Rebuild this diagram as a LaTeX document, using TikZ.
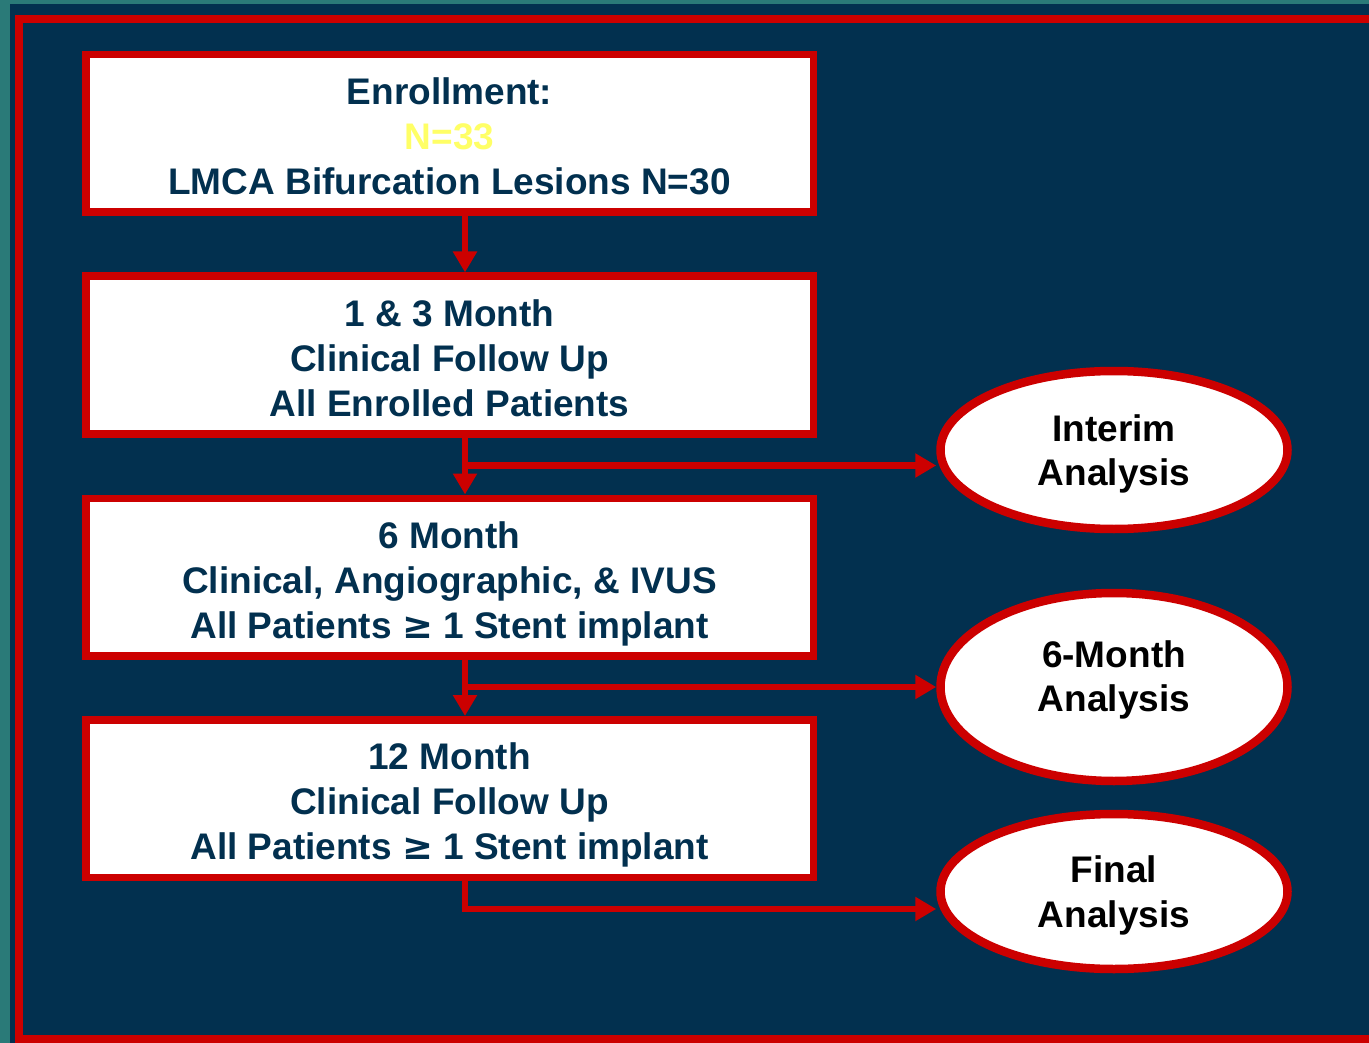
\documentclass[tikz,border=0pt]{standalone}
\usepackage{fontspec}
\setmainfont{Liberation Sans}
\newfontfamily\symbolfont{DejaVu Sans}
\usepackage{xcolor}
\usepackage{tikz}
\usetikzlibrary{arrows.meta, positioning, shapes.geometric}

\definecolor{deepnavy}{HTML}{02304F}
\definecolor{slateteal}{HTML}{2A7A78}
\definecolor{flowred}{HTML}{CC0000}
\definecolor{softyellow}{HTML}{FFFF66}
\newcommand{\atleast}{{\symbolfont ≥}}

\begin{document}
\begin{tikzpicture}[x=1pt, y=-1pt,
  stage/.style={draw=flowred, fill=white, line width=7.5pt, inner sep=0pt,
    minimum width=727.5pt, minimum height=157.5pt},
  stagetext/.style={align=center, text=deepnavy, font=\fontsize{37}{45}\selectfont\bfseries},
  oval/.style={ellipse, draw=flowred, fill=white, line width=8.5pt, inner sep=0pt,
    minimum width=347pt},
  ovaltext/.style={align=center, text=black, text depth=0pt,
    font=\fontsize{37}{44.5}\selectfont\bfseries},
  link/.style={draw=flowred, line width=6.5pt, -{Triangle[length=21pt, width=23pt]}}]
% Page, slide background and red frame
\clip (0,0) rectangle (1369,1043);
\fill[slateteal] (0,0) rectangle (1369,1043);
\fill[deepnavy] (10,4) rectangle (1369,1043);
\draw[flowred, line width=8pt] (19,19) rectangle (1420,1039);
% Study stages, top to bottom
\foreach \n/\y/\s/\t in {
  b1/133.5/-3/{Enrollment:\\\textcolor{softyellow}{N=33}\\LMCA Bifurcation Lesions N=30},
  b2/355/-3/{1 \& 3 Month\\Clinical Follow Up\\All Enrolled Patients},
  b3/577/-7/{6 Month\\Clinical, Angiographic, \& IVUS\\All Patients \atleast\ 1 Stent implant},
  b4/798.5/-6/{12 Month\\Clinical Follow Up\\All Patients \atleast\ 1 Stent implant}} {
  \node[stage, label={[stagetext, yshift=\s pt]center:\t}] (\n) at (449.5,\y) {};
}
% Analyses on the right
\foreach \n/\y/\h/\s/\t in {
  a1/450/158/0/{Interim\\Analysis},
  a2/687/188/11/{6-Month\\Analysis},
  a3/891.5/155/0/{Final\\Analysis}} {
  \node[oval, minimum height=\h pt, label={[ovaltext, yshift=\s pt]center:\t}] (\n) at (1114,\y) {};
}
% Junctions on the trunk line
\coordinate (j2) at (465,465.5);
\coordinate (j3) at (465,687);
\coordinate (j4) at (465,909);
% Connectors
\draw[link] (b1.south -| j2) -- (b2.north -| j2);
\draw[link] (b2.south -| j2) -- (b3.north -| j2);
\draw[link] (b3.south -| j3) -- (b4.north -| j3);
\draw[link] (j2) -- (j2 -| a1.west);
\draw[link] (j3) -- (j3 -| a2.west);
\draw[link] (b4.south -| j4) |- (j4 -| a3.west);
\end{tikzpicture}
\end{document}
